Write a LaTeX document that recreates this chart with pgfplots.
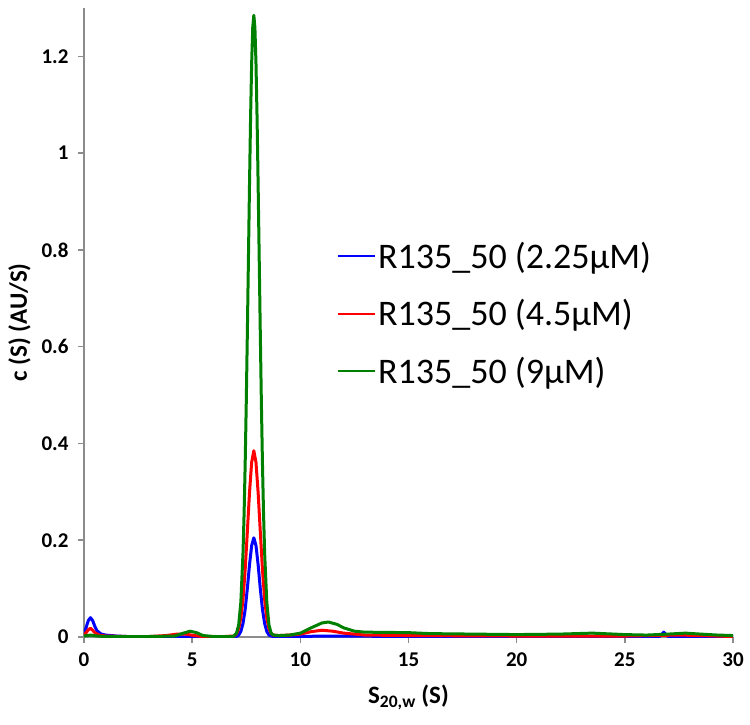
\documentclass[border=0pt]{standalone}
\usepackage{fontspec}
\setmainfont{Carlito}
\usepackage{pgfplots}
\pgfplotsset{compat=1.18}

\definecolor{cBlue}{RGB}{0,0,255}
\definecolor{cRed}{RGB}{255,0,0}
\definecolor{cGreen}{RGB}{0,128,0}
\definecolor{axGray}{RGB}{140,140,140}

\begin{document}
\begin{tikzpicture}
\useasboundingbox (-84pt,-87pt) rectangle (666pt,637pt);
\begin{axis}[
    at={(0,0)}, anchor=south west,
    scale only axis,
    width=649pt, height=629pt,
    xmin=0, xmax=30, ymin=0, ymax=1.3,
    axis lines=left,
    axis line style={axGray, line width=2pt, -},
    xtick={0,5,10,15,20,25,30},
    ytick={0,0.2,0.4,0.6,0.8,1,1.2},
    tick align=outside,
    major tick length=6pt,
    tick style={axGray, line width=1.5pt},
    /pgf/number format/assume math mode=true,
    ticklabel style={font=\bfseries\fontsize{21}{21}\selectfont},
    xticklabel style={yshift=-6pt},
    yticklabel style={xshift=-6pt},
    xlabel={\bfseries S\textsubscript{20,w} (S)},
    ylabel={\bfseries c (S) (AU/S)},
    label style={font=\fontsize{25}{25}\selectfont},
    xlabel style={yshift=-12pt},
    ylabel style={yshift=4pt},
    legend cell align=left,
    legend style={draw=none, fill=none, at={(rel axis cs:0.385,0.635)}, anchor=north west,
                  font=\fontsize{36}{36}\selectfont, row sep=26pt,
                  /tikz/every even column/.append style={column sep=2pt}},
    legend image code/.code={\draw[#1, line width=2pt] (0pt,0pt) -- (37pt,0pt);},
    every axis plot/.append style={line width=3pt, line join=round},
]

\addplot[cBlue] coordinates {
(0,0.006)(0.1,0.02)(0.2,0.034)(0.3,0.04)(0.4,0.034)(0.5,0.022)(0.6,0.013)(0.8,0.006)
(1.0,0.004)(1.5,0.002)(2,0.001)(3,0.0005)(4,0.0005)(5,0.0005)(6,0.0005)(6.8,0.0008)
(7.05,0.0012)(7.15,0.004)(7.25,0.0115)(7.35,0.028)(7.45,0.057)(7.55,0.100)(7.65,0.149)
(7.75,0.189)(7.85,0.205)(7.95,0.189)(8.05,0.149)(8.15,0.100)(8.25,0.057)(8.35,0.028)
(8.45,0.0115)(8.55,0.004)(8.7,0.0015)(9,0.001)(10,0.001)(11,0.002)(12,0.002)(15,0.001)
(20,0.001)(25,0.001)(26.6,0.001)(26.8,0.01)(27.0,0.001)(30,0.001)
};
\addlegendentry{R135\_50 (2.25µM)}

\addplot[cRed] coordinates {
(0,0.003)(0.1,0.009)(0.2,0.015)(0.3,0.018)(0.4,0.014)(0.5,0.009)(0.7,0.004)(1,0.002)
(2,0.001)(3,0.001)(3.8,0.003)(4.3,0.006)(4.7,0.006)(5.1,0.003)(5.5,0.001)(6.5,0.001)
(6.95,0.0022)(7.05,0.0065)(7.15,0.017)(7.25,0.039)(7.35,0.078)(7.45,0.139)(7.55,0.217)
(7.65,0.298)(7.75,0.361)(7.85,0.385)(7.95,0.361)(8.05,0.298)(8.15,0.217)(8.25,0.139)
(8.35,0.078)(8.45,0.039)(8.55,0.017)(8.65,0.0075)(8.75,0.004)(9,0.003)(9.5,0.004)
(10,0.006)(10.5,0.011)(11,0.014)(11.5,0.012)(12,0.008)(13,0.004)(15,0.003)(20,0.002)
(25,0.002)(27.5,0.004)(28.5,0.003)(30,0.001)
};
\addlegendentry{R135\_50 (4.5µM)}

\addplot[cGreen] coordinates {
(0,0.002)(0.3,0.004)(0.6,0.002)(1,0.001)(3,0.001)(4.2,0.002)(4.6,0.008)(4.9,0.012)
(5.2,0.009)(5.5,0.003)(6,0.001)(6.9,0.001)(7.05,0.008)(7.15,0.025)(7.25,0.072)
(7.35,0.174)(7.4,0.254)(7.45,0.357)(7.5,0.482)(7.55,0.626)(7.6,0.779)(7.65,0.933)
(7.7,1.073)(7.75,1.186)(7.8,1.260)(7.85,1.285)(7.9,1.260)(7.95,1.186)(8.0,1.073)
(8.05,0.933)(8.1,0.779)(8.15,0.626)(8.2,0.482)(8.25,0.357)(8.3,0.254)(8.35,0.174)
(8.45,0.072)(8.55,0.025)(8.65,0.008)(8.75,0.004)(9,0.003)(9.5,0.004)(10,0.008)
(10.5,0.019)(11,0.029)(11.3,0.031)(11.7,0.026)(12,0.019)(12.5,0.012)(13,0.01)
(15,0.009)(16,0.007)(18,0.006)(20,0.005)(22,0.006)(23.5,0.008)(25,0.005)(26,0.004)
(27,0.006)(27.8,0.008)(28.5,0.006)(29.3,0.004)(30,0.003)
};
\addlegendentry{R135\_50 (9µM)}

\end{axis}
\end{tikzpicture}
\end{document}
